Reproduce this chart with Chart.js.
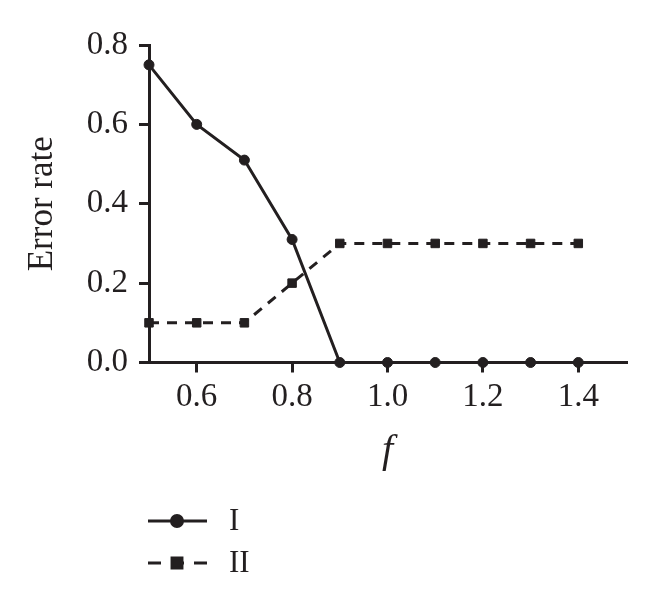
<!DOCTYPE html>
<html>
<head>
<meta charset="utf-8">
<script src="https://cdn.jsdelivr.net/npm/chart.js@4/dist/chart.umd.min.js"></script>
<style>
  html, body { margin: 0; padding: 0; background: #ffffff; }
  #wrap { width: 660px; height: 605px; position: relative; }
</style>
</head>
<body>
<div id="wrap"><canvas id="c"></canvas></div>
<script>
// ---- data ----
const fValues   = [0.5, 0.6, 0.7, 0.8, 0.9, 1.0, 1.1, 1.2, 1.3, 1.4];
const seriesI   = [0.75, 0.60, 0.51, 0.31, 0.0, 0.0, 0.0, 0.0, 0.0, 0.0];
const seriesII  = [0.10, 0.10, 0.10, 0.20, 0.30, 0.30, 0.30, 0.30, 0.30, 0.30];
const seriesNames = ['I', 'II'];
const xTickValues = [0.6, 0.8, 1.0, 1.2, 1.4];
const yTickValues = [0.0, 0.2, 0.4, 0.6, 0.8];
const xTitle = 'f';
const yTitle = 'Error rate';

const INK = '#231f20';
const SERIF = "'Liberation Serif', 'Times New Roman', serif";

function toPoints(ys) { return fValues.map((x, i) => ({ x: x, y: ys[i] })); }

const legendPlugin = {
  id: 'stackedLegend',
  afterDraw(chart) {
    const ctx = chart.ctx;
    const rows = [521, 563];
    const x0 = 148, x1 = 207, mx = 177, tx = 229;
    chart.data.datasets.forEach((ds, i) => {
      const y = rows[i];
      ctx.save();
      ctx.strokeStyle = ds.borderColor;
      ctx.lineWidth = ds.borderWidth;
      ctx.setLineDash(ds.borderDash && ds.borderDash.length ? [13, 10] : []);
      ctx.beginPath();
      ctx.moveTo(x0, y);
      ctx.lineTo(x1, y);
      ctx.stroke();
      ctx.setLineDash([]);
      ctx.fillStyle = ds.pointBackgroundColor;
      ctx.strokeStyle = ds.pointBorderColor;
      Chart.helpers.drawPoint(ctx, {
        pointStyle: ds.pointStyle,
        radius: ds.pointStyle === 'rect' ? 7 : 5.5,
        rotation: 0,
        borderWidth: 1
      }, mx, y);
      ctx.fillStyle = INK;
      ctx.font = "31px " + SERIF;
      ctx.textBaseline = 'middle';
      ctx.textAlign = 'left';
      ctx.fillText(ds.label, tx, y + 1);
      ctx.restore();
    });
  }
};

new Chart(document.getElementById('c'), {
  type: 'line',
  data: {
    datasets: [
      {
        label: seriesNames[0],
        data: toPoints(seriesI),
        borderColor: INK,
        borderWidth: 3,
        borderDash: [],
        pointStyle: 'circle',
        pointRadius: 5,
        pointBackgroundColor: INK,
        pointBorderColor: INK,
        pointBorderWidth: 1,
        tension: 0,
        clip: false,
        order: 0
      },
      {
        label: seriesNames[1],
        data: toPoints(seriesII),
        borderColor: INK,
        borderWidth: 3,
        borderDash: [10, 8],
        pointStyle: 'rect',
        pointRadius: 6,
        pointBackgroundColor: INK,
        pointBorderColor: INK,
        pointBorderWidth: 1,
        tension: 0,
        clip: false,
        order: 1
      }
    ]
  },
  options: {
    responsive: true,
    maintainAspectRatio: false,
    animation: false,
    layout: { padding: { left: 0, top: 45, right: 34, bottom: 122.5 } },
    plugins: {
      legend: { display: false },
      tooltip: { enabled: false }
    },
    scales: {
      x: {
        type: 'linear',
        min: 0.5,
        max: 1.5,
        afterBuildTicks(scale) { scale.ticks = xTickValues.map(v => ({ value: v })); },
        afterFit(scale) { scale.height = 120; },
        grid: {
          display: true,
          drawOnChartArea: false,
          drawTicks: true,
          tickLength: 10,
          color: INK,
          lineWidth: 3
        },
        border: { display: true, color: INK, width: 3 },
        ticks: {
          color: INK,
          font: { family: SERIF, size: 33 },
          padding: 5,
          maxRotation: 0,
          autoSkip: false,
          callback: v => Number(v).toFixed(1)
        },
        title: {
          display: true,
          text: xTitle,
          color: INK,
          font: { family: SERIF, size: 40, style: 'italic' },
          padding: { top: 0, bottom: 7 }
        }
      },
      y: {
        type: 'linear',
        min: 0,
        max: 0.8,
        afterBuildTicks(scale) { scale.ticks = yTickValues.map(v => ({ value: v })); },
        afterFit(scale) { scale.width = 149; },
        grid: {
          display: true,
          drawOnChartArea: false,
          drawTicks: true,
          tickLength: 10,
          color: INK,
          lineWidth: 3
        },
        border: { display: true, color: INK, width: 3 },
        ticks: {
          color: INK,
          font: { family: SERIF, size: 33 },
          padding: 11,
          autoSkip: false,
          callback: v => Number(v).toFixed(1)
        },
        title: {
          display: true,
          text: yTitle,
          color: INK,
          font: { family: SERIF, size: 35 },
          padding: { top: 22, bottom: 0 }
        }
      }
    }
  },
  plugins: [legendPlugin]
});
</script>
</body>
</html>
